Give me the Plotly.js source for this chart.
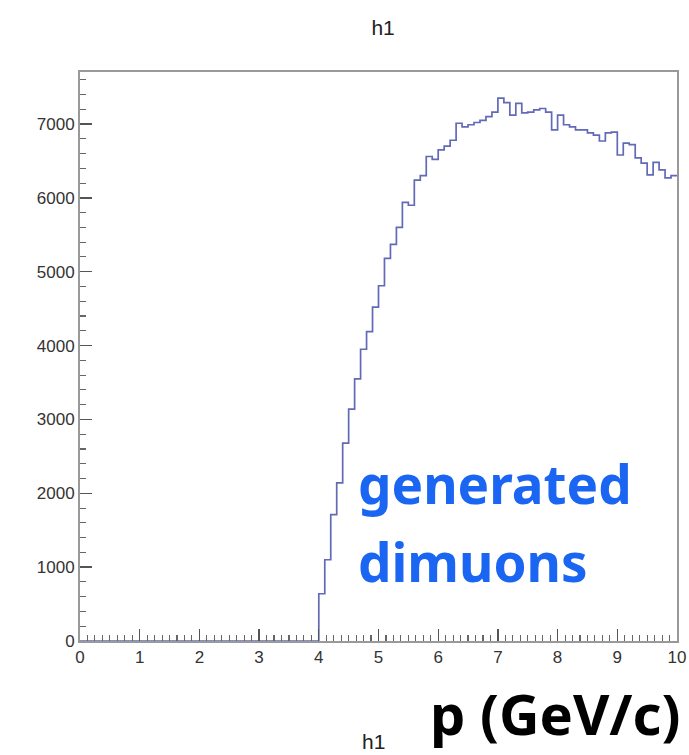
<!DOCTYPE html>
<html>
<head>
<meta charset="utf-8">
<script src="https://cdn.plot.ly/plotly-3.0.1.min.js"></script>
<style>
  html, body { margin: 0; padding: 0; background: #ffffff; }
  #plot { width: 689px; height: 755px; }
</style>
</head>
<body>
<div id="plot"></div>
<script>
// Histogram h1: momentum of generated dimuons, 100 bins from 0 to 10 GeV/c
const histName = "h1";
const xMin = 0;
const xMax = 10;
const nBins = 100;

// Bin contents, bins 0.0-0.1 ... 9.9-10.0
const countsLow = [
  0, 0, 0, 0, 0, 0, 0, 0, 0, 0,
  0, 0, 0, 0, 0, 0, 0, 0, 0, 0,
  0, 0, 0, 0, 0, 0, 0, 0, 0, 0,
  0, 0, 0, 0, 0, 0, 0, 0, 0, 0
];
const countsHigh = [
  640, 1100, 1710, 2140, 2680, 3140, 3550, 3950, 4190, 4520,
  4810, 5180, 5370, 5600, 5940, 5900, 6240, 6300, 6560, 6520,
  6650, 6700, 6780, 7010, 6960, 6990, 7020, 7050, 7100, 7160,
  7350, 7290, 7120, 7280, 7150, 7160, 7190, 7210, 7160, 6920,
  7120, 6990, 6960, 6920, 6920, 6880, 6850, 6770, 6880, 6890,
  6580, 6740, 6720, 6540, 6470, 6310, 6480, 6380, 6270, 6300
];
const counts = countsLow.concat(countsHigh);

const xTickVals = [0, 1, 2, 3, 4, 5, 6, 7, 8, 9, 10];
const yTickVals = [0, 1000, 2000, 3000, 4000, 5000, 6000, 7000];
const labelLines = ["generated", "dimuons"];
const xAxisLabel = "p (GeV/c)";

// Step outline: each bin edge carries the content of the bin to its right
const binWidth = (xMax - xMin) / nBins;
const edges = [];
const stepY = [];
for (let i = 0; i <= nBins; i++) {
  edges.push(xMin + i * binWidth);
  stepY.push(counts[Math.min(i, nBins - 1)]);
}

const trace = {
  type: "scatter",
  mode: "lines",
  x: edges,
  y: stepY,
  line: { shape: "hv", color: "#6269b6", width: 1.7 },
  hoverinfo: "x+y",
  showlegend: false
};

const tickFont = { family: "Liberation Sans, Arial, sans-serif", size: 17, color: "#333333" };

const layout = {
  width: 689,
  height: 755,
  margin: { l: 80, r: 12, t: 72, b: 114 },
  paper_bgcolor: "#ffffff",
  plot_bgcolor: "#ffffff",
  title: {
    text: histName,
    x: 0.556, xanchor: "center",
    y: 0.963, yanchor: "middle",
    font: { family: "Liberation Sans, Arial, sans-serif", size: 21, color: "#222222" }
  },
  xaxis: {
    range: [xMin, xMax],
    tickvals: xTickVals,
    ticktext: xTickVals.map(String),
    ticks: "inside",
    ticklen: 12,
    tickwidth: 1.3,
    tickcolor: "#555555",
    minor: { dtick: 0.125, ticks: "inside", ticklen: 6, tickcolor: "#666666", tickwidth: 1.1 },
    showgrid: false,
    zeroline: false,
    showline: true,
    mirror: true,
    linecolor: "#999999",
    linewidth: 2,
    tickfont: tickFont
  },
  yaxis: {
    range: [0, 7704],
    tickvals: yTickVals,
    ticktext: yTickVals.map(String),
    ticks: "inside",
    ticklen: 12,
    tickwidth: 1.3,
    tickcolor: "#555555",
    minor: { dtick: 200, ticks: "inside", ticklen: 6, tickcolor: "#666666", tickwidth: 1.1 },
    showgrid: false,
    zeroline: false,
    showline: true,
    mirror: true,
    linecolor: "#999999",
    linewidth: 2,
    tickfont: tickFont
  },
  annotations: [
    {
      text: labelLines[0], xref: "paper", yref: "paper",
      x: 0.462, y: 0.277, xanchor: "left", yanchor: "middle", showarrow: false,
      font: { family: "Noto Sans, sans-serif", size: 53, color: "#1a66f2", weight: "bold" }
    },
    {
      text: labelLines[1], xref: "paper", yref: "paper",
      x: 0.462, y: 0.139, xanchor: "left", yanchor: "middle", showarrow: false,
      font: { family: "Noto Sans, sans-serif", size: 53, color: "#1a66f2", weight: "bold" }
    },
    {
      text: xAxisLabel, xref: "paper", yref: "paper",
      x: 1.008, y: -0.1265, xanchor: "right", yanchor: "middle", showarrow: false,
      font: { family: "Noto Sans, sans-serif", size: 56, color: "#000000", weight: "bold" }
    },
    {
      text: histName, xref: "paper", yref: "paper",
      x: 0.492, y: -0.177, xanchor: "center", yanchor: "middle", showarrow: false,
      font: { family: "Liberation Sans, Arial, sans-serif", size: 21, color: "#222222" }
    }
  ]
};

Plotly.newPlot("plot", [trace], layout, { displayModeBar: false, staticPlot: true });
</script>
</body>
</html>
